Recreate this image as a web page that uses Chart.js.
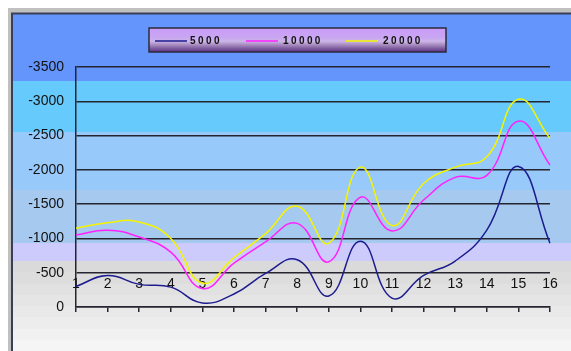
<!DOCTYPE html>
<html>
<head>
<meta charset="utf-8">
<script src="https://cdn.jsdelivr.net/npm/chart.js@4/dist/chart.umd.min.js"></script>
<style>
  html, body { margin: 0; padding: 0; background: #ffffff; }
  #wrap { width: 571px; height: 351px; position: relative; }
</style>
</head>
<body>
<div id="wrap"><canvas id="c" width="571" height="351"></canvas></div>
<script>
// Categories along the horizontal axis
const categories = ['1', '2', '3', '4', '5', '6', '7', '8', '9', '10', '11', '12', '13', '14', '15', '16'];

// Series values
const series5000  = [-300, -460, -330, -290, -60, -190, -490, -690, -160, -960, -130, -460, -670, -1120, -2050, -930];
const series10000 = [-1050, -1120, -1020, -800, -270, -640, -950, -1220, -660, -1600, -1110, -1560, -1890, -1920, -2710, -2070];
const series20000 = [-1150, -1230, -1240, -1000, -350, -720, -1070, -1470, -930, -2040, -1190, -1800, -2040, -2190, -3030, -2460];

// Series names and line colours
const seriesNames = ['5000', '10000', '20000'];
const seriesColors = ['#1c1c8e', '#ff22ff', '#f4f400'];

// Value axis range
const yMin = -3500;
const yMax = 0;
const yStep = 500;
const xLabelLevel = -500;

const font = "'Liberation Sans', Arial, sans-serif";

// Banded backdrop and outer frame
const backdrop = {
  id: 'backdrop',
  beforeDraw(chart) {
    const ctx = chart.ctx;
    const W = chart.width, H = chart.height;
    ctx.save();
    ctx.fillStyle = '#ffffff';
    ctx.fillRect(0, 0, W, H);
    ctx.fillStyle = '#c0c0c0';
    ctx.fillRect(8, 8, W - 8, H - 8);
    const bands = [
      [13, 81, '#6495fc'],
      [81, 132, '#66cbfc'],
      [132, 190, '#98c9fb'],
      [190, 243, '#a6c9ef'],
      [243, 261, '#cccbfc']
    ];
    for (const [a, b, c] of bands) {
      ctx.fillStyle = c;
      ctx.fillRect(12, a, W - 12, b - a);
    }
    const grey = ['#dadada', '#dddddd', '#e1e1e1', '#e5e5e5', '#e9e9e9', '#ededed', '#f1f1f1', '#f5f5f5'];
    const gTop = 261, gStep = (H - gTop) / grey.length;
    grey.forEach((c, i) => {
      ctx.fillStyle = c;
      ctx.fillRect(12, Math.round(gTop + i * gStep), W - 12, Math.ceil(gStep) + 1);
    });
    ctx.strokeStyle = '#3a3f55';
    ctx.lineWidth = 2;
    ctx.beginPath();
    ctx.moveTo(12, H);
    ctx.lineTo(12, 13.5);
    ctx.lineTo(W, 13.5);
    ctx.stroke();
    ctx.restore();
  }
};

// Legend box with gradient fill
const legendBox = {
  id: 'legendBox',
  afterDraw(chart) {
    const ctx = chart.ctx;
    const x = 149, y = 28, w = 297, h = 24;
    ctx.save();
    const g = ctx.createLinearGradient(0, y, 0, y + h);
    g.addColorStop(0, '#c99cf8');
    g.addColorStop(0.4, '#c9a6f2');
    g.addColorStop(0.55, '#cdb6e8');
    g.addColorStop(0.7, '#a88cc0');
    g.addColorStop(0.85, '#7e5c9e');
    g.addColorStop(1, '#5a2f86');
    ctx.fillStyle = g;
    ctx.fillRect(x, y, w, h);
    ctx.strokeStyle = '#2b2b3b';
    ctx.lineWidth = 1.5;
    ctx.strokeRect(x, y, w, h);
    const items = [
      { lx: 155, tx: 190 },
      { lx: 246, tx: 283 },
      { lx: 346, tx: 383 }
    ];
    const cy = y + 13;
    chart.data.datasets.forEach((ds, i) => {
      const it = items[i];
      ctx.strokeStyle = ds.borderColor;
      ctx.lineWidth = 1.5;
      ctx.beginPath();
      ctx.moveTo(it.lx, cy);
      ctx.lineTo(it.lx + 32, cy);
      ctx.stroke();
      ctx.fillStyle = '#111111';
      ctx.font = "bold 10px " + font;
      ctx.letterSpacing = '2.4px';
      ctx.textBaseline = 'middle';
      ctx.textAlign = 'left';
      ctx.fillText(ds.label, it.tx, cy + 0.5);
    });
    ctx.restore();
  }
};

const chart = new Chart(document.getElementById('c'), {
  type: 'line',
  data: {
    labels: categories,
    datasets: [series5000, series10000, series20000].map((d, i) => ({
      label: seriesNames[i],
      data: d,
      borderColor: seriesColors[i],
      backgroundColor: seriesColors[i],
      borderWidth: 1.5,
      pointRadius: 0,
      tension: 0.45,
      fill: false
    }))
  },
  options: {
    responsive: false,
    animation: false,
    layout: { padding: { left: 12, top: 67, right: 21, bottom: 24 } },
    plugins: { legend: { display: false }, tooltip: { enabled: false } },
    scales: {
      y: {
        reverse: true,
        min: yMin,
        max: yMax,
        afterFit(scale) { scale.width = 64; },
        ticks: {
          stepSize: yStep,
          padding: 12,
          color: '#111111',
          font: { family: font, size: 14 },
          callback: v => String(v)
        },
        grid: { color: '#25252f', lineWidth: 1.5, drawTicks: false },
        border: { display: true, color: '#25252f', width: 1.5 }
      },
      x: {
        type: 'category',
        position: { y: xLabelLevel },
        offset: false,
        ticks: {
          padding: 3,
          autoSkip: false,
          maxRotation: 0,
          color: '#111111',
          font: { family: font, size: 14 }
        },
        grid: { display: false, drawTicks: false },
        border: { display: false }
      },
      xBase: {
        type: 'category',
        position: 'bottom',
        offset: false,
        afterFit(scale) { scale.height = 20; },
        ticks: { display: true, autoSkip: false, callback: () => '' , font: { size: 1 } },
        grid: { drawOnChartArea: false, drawTicks: true, tickLength: 5, color: '#25252f', lineWidth: 1.5 },
        border: { display: true, color: '#25252f', width: 1.5 }
      }
    }
  },
  plugins: [backdrop, legendBox]
});
</script>
</body>
</html>
